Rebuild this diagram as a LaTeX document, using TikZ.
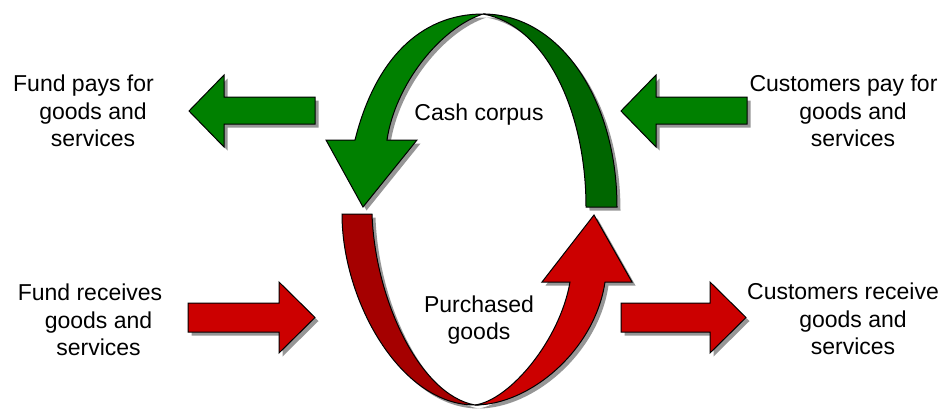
\documentclass[tikz,border=0pt]{standalone}
\usepackage{fontspec}
\setmainfont{Liberation Sans}
\definecolor{gLight}{RGB}{0,128,0}
\definecolor{gDark}{RGB}{0,102,0}
\definecolor{rLight}{RGB}{204,0,0}
\definecolor{rDark}{RGB}{165,0,0}
\definecolor{shad}{RGB}{150,150,150}
\tikzset{
  shp/.style={draw=black,line width=1pt,line join=miter},
  shd/.style={fill=shad,shift={(3.5,3.5)}},
  lbl/.style={align=center,inner sep=0pt,font=\fontsize{23}{27.5}\selectfont}
}
\newcommand{\shGreenDark}[1]{\path[#1] (483,14) .. controls (560,14) and (617,100) .. (617,207) -- (586,207) .. controls (586,110) and (545,25) .. (483,14) -- cycle;}
\newcommand{\shGreenLight}[1]{\path[#1] (483,14) .. controls (420,14) and (375,60) .. (355,140) -- (326,140) -- (363,207) -- (417,140) -- (387,140) .. controls (395,85) and (440,28) .. (483,14) -- cycle;}
\newcommand{\shRedDark}[1]{\path[#1] (342,214) .. controls (342,300) and (400,405) .. (475,405) .. controls (420,395) and (375,300) .. (372,214) -- cycle;}
\newcommand{\shRedLight}[1]{\path[#1] (475,405) .. controls (530,405) and (595,350) .. (605,282) -- (632,282) -- (594,215) -- (542,282) -- (570,282) .. controls (560,340) and (510,400) .. (475,405) -- cycle;}
\newcommand{\shArrA}[1]{\path[#1] (189,111) -- (224,75) -- (224,97) -- (315,97) -- (315,124) -- (224,124) -- (224,147) -- cycle;}
\newcommand{\shArrB}[1]{\path[#1] (621,111) -- (656,75) -- (656,97) -- (747,97) -- (747,124) -- (656,124) -- (656,147) -- cycle;}
\newcommand{\shArrC}[1]{\path[#1] (188,303) -- (279,303) -- (279,282) -- (315,317.5) -- (279,353) -- (279,332) -- (188,332) -- cycle;}
\newcommand{\shArrD}[1]{\path[#1] (621,303) -- (710,303) -- (710,282) -- (746,317.5) -- (710,353) -- (710,332) -- (621,332) -- cycle;}
\begin{document}
\begin{tikzpicture}[x=1pt,y=-1pt]
\useasboundingbox (0,0) rectangle (945,410);
% shadows
\shGreenDark{shd}
\shGreenLight{shd}
\shRedDark{shd}
\shRedLight{shd}
\shArrA{shd}
\shArrB{shd}
\shArrC{shd}
\shArrD{shd}
% shapes
\shGreenDark{shp,fill=gDark}
\shGreenLight{shp,fill=gLight}
\shRedDark{shp,fill=rDark}
\shRedLight{shp,fill=rLight}
\shArrA{shp,fill=gLight}
\shArrB{shp,fill=gLight}
\shArrC{shp,fill=rLight}
\shArrD{shp,fill=rLight}
% labels
\node[lbl] (fpays) at (93,111) {Fund pays for\hspace*{19pt}\\goods and\\services};
\node[lbl] (cpays) at (853,111) {Customers pay for\hspace*{19pt}\\goods and\\services};
\node[lbl] (frec) at (98.5,320) {Fund receives\hspace*{17pt}\\goods and\\services};
\node[lbl] (crec) at (853,319) {Customers receive\hspace*{20pt}\\goods and\\services};
\node[lbl,anchor=base] (cash) at (479,120) {Cash corpus};
\node[lbl] (purch) at (479,320) {Purchased\\goods};
\end{tikzpicture}
\end{document}
